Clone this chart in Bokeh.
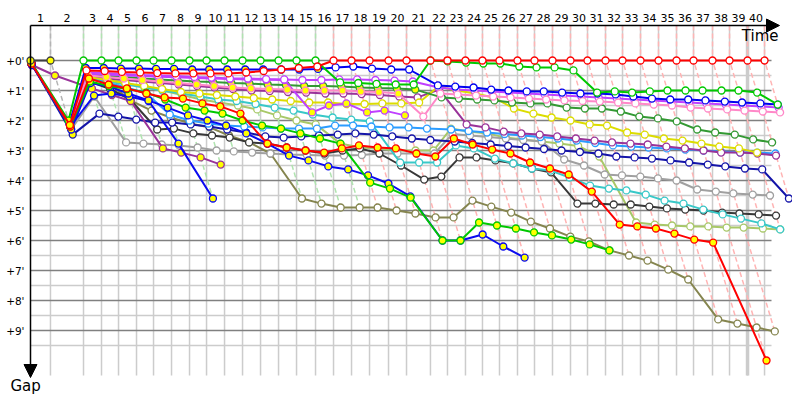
from bokeh.plotting import figure
from bokeh.models import Range1d, Arrow, NormalHead
from bokeh.core.properties import value
from bokeh.embed import file_html
from bokeh.resources import INLINE

# leader's elapsed race time (minutes) when each lap 0..40 is completed
LAP_TIME = [0.00, 2.22, 5.89, 7.89, 9.78, 11.78, 13.67, 15.67, 17.67, 19.56,
            21.56, 23.56, 25.56, 27.56, 29.56, 31.67, 33.67, 35.67, 37.67, 39.78,
            41.78, 44.44, 46.33, 48.33, 50.22, 52.11, 54.11, 56.00, 58.00, 60.00,
            61.89, 63.89, 65.78, 67.78, 69.78, 71.78, 73.67, 75.78, 77.67, 79.67,
            81.56]
LAP_LABELS = [str(n) for n in range(1, 41)]
GAP_TICKS = [0, 1, 2, 3, 4, 5, 6, 7, 8, 9]
GAP_LABELS = ["+%d'" % g for g in GAP_TICKS]

# gap to leader (minutes) per lap, lap 0 first
LAP1_LEADER = [0.00, 0.00]
RED_LEAD = [0.10, 2.15, 0.33, 0.35, 0.38, 0.40, 0.42, 0.43, 0.43, 0.43, 0.43, 0.40, 0.35, 0.30, 0.25, 0.20,
            0, 0, 0, 0, 0, 0, 0, 0, 0, 0, 0, 0, 0, 0, 0, 0, 0, 0, 0, 0, 0, 0, 0, 0, 0]
GREEN_LEAD = [0.05, 2.00, 0, 0, 0, 0, 0, 0, 0, 0, 0, 0, 0, 0, 0, 0,
              0.73, 0.75, 0.78, 0.80, 0.80, 0.00, 0.03, 0.07, 0.10, 0.10, 0.20, 0.23, 0.23, 0.33,
              1.07, 1.03, 1.07, 1.03, 1.00, 1.00, 1.00, 1.00, 1.00, 1.07, 1.47]
BLUE = [0.15, 2.10, 0.25, 0.25, 0.27, 0.27, 0.28, 0.28, 0.30, 0.30, 0.30, 0.30, 0.30, 0.30, 0.30, 0.28,
        0.23, 0.20, 0.27, 0.30, 0.30, 0.83, 0.87, 0.90, 0.97, 1.00, 1.03, 1.03, 1.07, 1.10, 1.10,
        1.13, 1.20, 1.27, 1.30, 1.30, 1.33, 1.37, 1.40, 1.43, 1.47]
PINK = [0.15, 2.10, 0.50, 0.55, 0.60, 0.65, 0.70, 0.75, 0.80, 0.85, 0.90, 0.93, 0.95, 0.97, 1.00, 1.00,
        1.00, 1.03, 1.05, 1.10, 1.87, 1.10, 1.13, 1.17, 1.20, 1.23, 1.27, 1.30, 1.33, 1.35, 1.37,
        1.40, 1.43, 1.47, 1.50, 1.57, 1.60, 1.63, 1.67, 1.70, 1.73]
MAGENTA = [0.10, 2.15, 0.40, 0.42, 0.45, 0.48, 0.50, 0.52, 0.55, 0.57, 0.60, 0.60, 0.62, 0.63, 0.65, 0.65,
           0.63, 0.63, 0.65, 0.67, 0.70, 0.90, 0.97, 1.00, 1.03, 1.07, 1.10, 1.13, 1.17, 1.20, 1.23,
           1.27, 1.30, 1.33, 1.37, 1.40, 1.43, 1.47, 1.50, 1.53, 1.57]
MAGENTA_Y = [0.10, 2.20, 0.45, 0.47, 0.50, 0.52, 0.54, 0.56, 0.58, 0.60, 0.62, 0.63, 0.64, 0.65,
             1.73, 1.50, 1.43, 1.73, 1.67, 1.83]
DARK_GREEN = [0.10, 2.10, 0.45, 0.50, 0.55, 0.60, 0.63, 0.67, 0.70, 0.72, 0.75, 0.77, 0.80, 0.82, 0.85, 0.85,
              0.87, 0.90, 0.92, 0.93, 0.97, 1.23, 1.27, 1.30, 1.33, 1.40, 1.43, 1.43, 1.57, 1.60, 1.60,
              1.70, 1.87, 1.93, 2.03, 2.30, 2.40, 2.47, 2.63, 2.73]
YELLOW = [0.10, 2.20, 0.55, 0.65, 0.75, 0.85, 0.95, 1.05, 1.10, 1.15, 1.20, 1.25, 1.30, 1.35, 1.40, 1.40,
          1.45, 1.45, 1.43, 1.43, 1.40, 0.87, 1.00, 1.10, 1.23, 1.60, 1.77, 1.90, 2.00, 2.13, 2.17,
          2.40, 2.47, 2.60, 2.67, 2.77, 2.87, 2.93, 3.07]
DARK_PURPLE = [0.10, 2.20, 0.55, 0.60, 0.65, 0.70, 0.75, 0.80, 0.85, 0.90, 0.95, 1.00, 1.02, 1.05, 1.07, 1.10,
               1.10, 1.12, 1.15, 1.20, 1.23, 0.97, 2.13, 2.23, 2.37, 2.43, 2.47, 2.53, 2.60, 2.67,
               2.73, 2.77, 2.80, 2.87, 2.93, 3.00, 3.07, 3.07, 3.10, 3.17]
LIGHT_BLUE = [0.10, 2.20, 0.60, 0.75, 0.90, 1.10, 1.80, 2.00, 2.10, 2.17, 2.20, 2.23, 2.27, 2.27, 2.27, 2.17,
              2.17, 2.20, 2.23, 2.23, 2.27, 2.30, 2.35, 2.40, 2.45, 2.50, 2.55, 2.60, 2.67, 2.75,
              2.83, 2.87, 2.90, 2.93, 2.97, 3.00, 3.03, 3.07, 3.07, 3.10]
NAVY = [0.10, 2.47, 1.77, 1.87, 1.97, 2.07, 2.07, 2.13, 2.20, 2.30, 2.40, 2.53, 2.57, 2.53, 2.50, 2.47,
        2.43, 2.47, 2.53, 2.60, 2.65, 2.70, 2.75, 2.80, 2.85, 2.90, 2.95, 3.00, 3.05, 3.10,
        3.20, 3.23, 3.27, 3.33, 3.40, 3.47, 3.53, 3.60, 3.63, 4.60]
GRAY = [0.10, 2.30, 1.20, 2.73, 2.77, 2.80, 2.83, 2.90, 3.00, 3.03, 3.07, 3.10, 3.13, 3.15, 3.17, 3.17,
        3.15, 3.10, 3.10, 3.10, 3.10, 2.45, 2.50, 2.55, 2.60, 2.65, 2.70, 3.30, 3.50, 3.80,
        3.83, 3.87, 3.93, 4.00, 4.30, 4.37, 4.43, 4.47, 4.50]
TURQUOISE = [0.10, 2.20, 0.60, 0.70, 0.80, 0.90, 1.00, 1.10, 1.20, 1.30, 1.35, 1.45, 1.57, 1.67, 1.80, 1.90,
             1.97, 2.03, 3.40, 3.40, 3.40, 2.83, 2.93, 3.27, 3.43, 3.60, 3.67, 3.90, 4.17,
             4.27, 4.33, 4.47, 4.67, 4.77, 4.97, 5.13, 5.27, 5.43, 5.63]
BLACK = [0.10, 2.25, 0.70, 0.95, 1.30, 2.30, 2.27, 2.43, 2.50, 2.57, 2.73, 2.77, 2.90, 3.00, 3.10, 3.00,
         2.93, 3.10, 3.50, 3.97, 3.87, 3.23, 3.23, 3.33, 3.43, 3.60, 3.73, 4.77, 4.77,
         4.80, 4.80, 4.87, 4.93, 4.97, 5.00, 5.07, 5.10, 5.13, 5.17]
LIGHT_OLIVE = [0.10, 2.20, 0.50, 0.60, 0.75, 0.90, 1.00, 1.15, 1.30, 1.40, 1.50, 1.63, 1.83, 2.00, 2.13,
               2.77, 2.90, 2.93, 3.00, 3.00, 3.00, 2.27, 2.37, 2.43, 2.57, 2.63, 2.70, 2.77, 2.85, 3.20,
               5.40, 5.47, 5.50, 5.53, 5.53, 5.57, 5.57, 5.60, 5.63]
RED_Y = [0.10, 2.20, 0.60, 0.80, 0.93, 1.10, 1.23, 1.27, 1.43, 1.53, 1.77, 2.77, 2.90, 3.00, 3.07, 2.93,
         2.83, 2.90, 2.93, 3.10, 3.20, 2.60, 2.80, 2.97, 3.10, 3.40, 3.60, 3.80, 4.37,
         5.47, 5.53, 5.60, 5.77, 5.97, 6.07, 10.00]
GREEN_Y = [0.10, 2.20, 0.70, 0.85, 0.95, 1.07, 1.30, 1.57, 1.67, 1.77, 2.00, 2.17, 2.27, 2.43, 2.60, 2.77,
           4.07, 4.27, 4.57, 6.00, 6.00, 5.40, 5.50, 5.60, 5.73, 5.83, 5.97, 6.13, 6.33]
BLUE_Y2 = [0.10, 2.30, 0.75, 0.87, 1.10, 1.33, 1.57, 1.83, 2.00, 2.17, 2.43, 2.77, 3.17, 3.33, 3.53, 3.63,
           3.83, 4.10, 4.53, 6.00, 6.00, 5.80, 6.20, 6.57]
BLUE_Y1 = [0.10, 2.20, 1.17, 1.10, 1.20, 1.35, 2.77, 4.60]
OLIVE = [0.10, 2.20, 0.57, 0.73, 1.33, 1.67, 1.90, 2.10, 2.23, 2.50, 2.73, 3.10, 4.60, 4.77, 4.90, 4.90,
         4.90, 5.00, 5.10, 5.23, 5.23, 4.67, 4.87, 5.07, 5.37, 5.60, 5.87, 6.03, 6.33,
         6.50, 6.67, 6.97, 7.30, 8.63, 8.77, 8.90, 9.03]
PURPLE_Y = [0.15, 0.50, 0.93, 1.15, 1.35, 2.93, 3.07, 3.23, 3.47]

# style table: (gaps, colour, last lap drawn with a yellow marker) - drawn back to front
SERIES = [
    (OLIVE, "#85854f", 1),
    (LIGHT_OLIVE, "#a8c868", 1),
    (GRAY, "#a0a0a0", 1),
    (BLACK, "#383838", 1),
    (TURQUOISE, "#38c8c8", 1),
    (NAVY, "#1414a8", 1),
    (LIGHT_BLUE, "#2a9cff", 1),
    (DARK_PURPLE, "#993399", 1),
    (PURPLE_Y, "#993399", 99),
    (YELLOW, "#dcdc00", 1),
    (DARK_GREEN, "#339933", 20),
    (MAGENTA_Y, "#c040ff", 99),
    (MAGENTA, "#c040ff", 1),
    (PINK, "#ff88c8", 19),
    (BLUE_Y1, "#0a0af0", 99),
    (BLUE_Y2, "#0a0af0", 99),
    (GREEN_Y, "#00c800", 99),
    (RED_Y, "#ff0000", 99),
    (BLUE, "#0000f0", 15),
    (GREEN_LEAD, "#00c800", 1),
    (RED_LEAD, "#ff0000", 1),
    (LAP1_LEADER, "#404040", 99),
]

X_PX_PER_MIN = 9.0
Y_PX_PER_MIN = 30.0
W, H = 792, 396
X0 = (0 - 30) / X_PX_PER_MIN
Y0 = (0 - 60) / Y_PX_PER_MIN

p = figure(width=W, height=H, output_backend="svg", toolbar_location=None,
           x_axis_type=None, y_axis_type=None, min_border=0,
           x_range=Range1d(X0, X0 + W / X_PX_PER_MIN),
           y_range=Range1d(Y0 + H / Y_PX_PER_MIN, Y0))
p.outline_line_color = None
p.background_fill_color = "white"
p.border_fill_color = "white"

TOP = (25 - 60) / Y_PX_PER_MIN
BOT = (375 - 60) / Y_PX_PER_MIN
XEND = (771 - 30) / X_PX_PER_MIN

# grid
p.multi_line(xs=[[0, XEND] for g in GAP_TICKS], ys=[[g + 0.5, g + 0.5] for g in GAP_TICKS],
             line_color="#cccccc", line_width=1.5)
p.multi_line(xs=[[t, t] for t in LAP_TIME[1:]], ys=[[TOP, BOT] for t in LAP_TIME[1:]],
             line_color="#cccccc", line_width=1.5)
p.line(x=[LAP_TIME[39], LAP_TIME[39]], y=[TOP, BOT], line_color="#cccccc", line_width=3.5)
p.multi_line(xs=[[0, XEND] for g in GAP_TICKS], ys=[[g, g] for g in GAP_TICKS],
             line_color="#808080", line_width=1.5)

# lap lines through every car's crossing of that lap
all_series = [s[0] for s in SERIES]
lx, ly, lc = [], [], []
for n in range(1, len(LAP_TIME)):
    gmax = max(s[n] for s in all_series if len(s) > n)
    t = LAP_TIME[n]
    lx.append([t, t, t + gmax])
    ly.append([TOP, 0, gmax])
    lc.append("#b4b4b4" if n == 1 else ("#b0e4b0" if n <= 15 else "#ffb4b4"))
p.multi_line(xs=lx, ys=ly, line_color=lc, line_width=1.5, line_dash="5 3")

# series
for gaps, color, ylast in SERIES:
    xs = [LAP_TIME[i] + g for i, g in enumerate(gaps)]
    p.line(x=xs, y=gaps, line_color=color, line_width=2)
    fills = ["#ffff00" if i <= ylast else "white" for i in range(len(gaps))]
    p.scatter(x=xs, y=gaps, marker="circle", size=7, fill_color=fills,
              line_color=color, line_width=1.3)

# axes with arrows
p.add_layout(Arrow(end=NormalHead(size=13, fill_color="black", line_color="black"),
                   x_start=0, y_start=TOP, x_end=(779 - 30) / X_PX_PER_MIN, y_end=TOP,
                   line_color="black", line_width=1.5))
p.add_layout(Arrow(end=NormalHead(size=13, fill_color="black", line_color="black"),
                   x_start=0, y_start=TOP, x_end=0, y_end=(377 - 60) / Y_PX_PER_MIN,
                   line_color="black", line_width=1.5))

# labels
mids = [(LAP_TIME[i] + LAP_TIME[i + 1]) / 2 for i in range(40)]
p.text(x=mids, y=[(17 - 60) / Y_PX_PER_MIN] * 40, text=LAP_LABELS,
       text_font=value("DejaVu Sans"), text_font_size="11px",
       text_align="center", text_baseline="middle", text_color="black")
p.text(x=[(24 - 30) / X_PX_PER_MIN] * len(GAP_TICKS), y=GAP_TICKS, text=GAP_LABELS,
       text_font=value("DejaVu Sans"), text_font_size="10.5px",
       text_align="right", text_baseline="middle", text_color="black")
p.text(x=[(778 - 30) / X_PX_PER_MIN], y=[(35 - 60) / Y_PX_PER_MIN], text=["Time"],
       text_font=value("DejaVu Sans"), text_font_size="15px",
       text_align="right", text_baseline="middle", text_color="black")
p.text(x=[(10 - 30) / X_PX_PER_MIN], y=[(385 - 60) / Y_PX_PER_MIN], text=["Gap"],
       text_font=value("DejaVu Sans"), text_font_size="15px",
       text_align="left", text_baseline="middle", text_color="black")

open("out.html", "w").write(file_html(p, INLINE))
